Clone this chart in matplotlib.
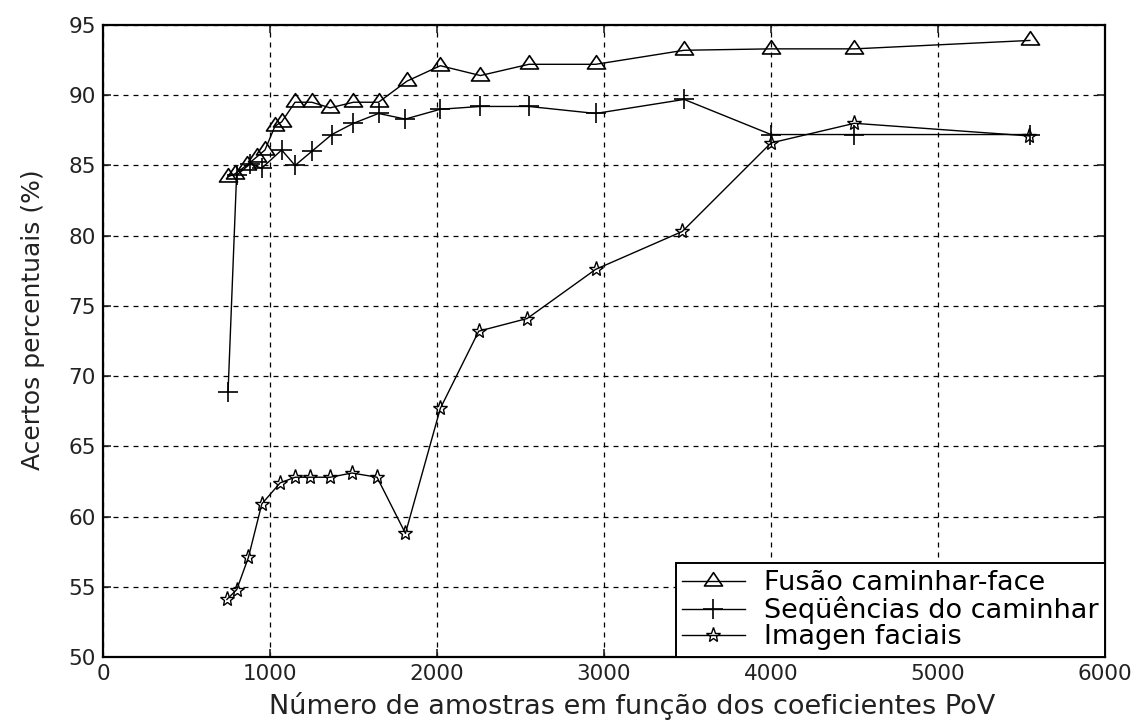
import numpy as np
import matplotlib.pyplot as plt
from matplotlib.path import Path

# amostras (x) e acertos (%) de cada abordagem
x_fusao = [750, 790, 860, 920, 970, 1030, 1070, 1150, 1250, 1360, 1500, 1650,
           1820, 2020, 2260, 2550, 2950, 3480, 4000, 4500, 5550]
y_fusao = [84.2, 84.4, 85.0, 85.6, 86.1, 87.8, 88.1, 89.5, 89.5, 89.1, 89.5, 89.5,
           91.0, 92.1, 91.4, 92.2, 92.2, 93.2, 93.3, 93.3, 93.9]

x_caminhar = [749, 800, 880, 950, 1070, 1150, 1250, 1370, 1500, 1650, 1810,
              2020, 2260, 2550, 2950, 3480, 4000, 4500, 5550]
y_caminhar = [68.9, 84.3, 85.1, 84.8, 86.1, 85.0, 86.0, 87.2, 88.0, 88.7, 88.3,
              89.0, 89.2, 89.2, 88.7, 89.7, 87.2, 87.2, 87.2]

x_facial = [742, 801, 871, 951, 1061, 1151, 1241, 1361, 1491, 1641, 1811,
            2020, 2250, 2540, 2950, 3469, 4000, 4500, 5546]
y_facial = [54.1, 54.8, 57.1, 60.9, 62.4, 62.8, 62.8, 62.8, 63.1, 62.8, 58.8,
            67.7, 73.2, 74.1, 77.6, 80.3, 86.6, 88.0, 87.1]

xticks = [0, 1000, 2000, 3000, 4000, 5000, 6000]
yticks = [50, 55, 60, 65, 70, 75, 80, 85, 90, 95]

# triangulo com o ponto no centroide
tri = Path([(0, 11.3), (-11.5, -5.7), (11.5, -5.7), (0, 11.3)],
           [Path.MOVETO, Path.LINETO, Path.LINETO, Path.CLOSEPOLY])

plt.rcParams['font.family'] = 'DejaVu Sans'
fig = plt.figure(figsize=(11.38, 7.2), dpi=100)
ax = fig.add_axes([0.0905, 0.0875, 0.8805, 0.8778])

ax.plot(x_fusao, y_fusao, color='k', lw=1.0, marker=tri, ms=13,
        mfc='none', mec='k', mew=1.2, label='Fusão caminhar-face')
ax.plot(x_caminhar, y_caminhar, color='k', lw=1.0, marker='+', ms=14,
        mec='k', mew=1.2, label='Seqüências do caminhar')
ax.plot(x_facial, y_facial, color='k', lw=1.0, marker='*', ms=11,
        mfc='none', mec='k', mew=1.0, label='Imagen faciais')

ax.set_xlim(0, 6000)
ax.set_ylim(50, 95)
ax.set_xticks(xticks)
ax.set_yticks(yticks)
ax.grid(True, color='k', linestyle=(0, (4, 4)), linewidth=0.9)
ax.tick_params(direction='in', length=6, width=1.2, top=True, right=True,
               labelsize=15.5, colors='#222222', pad=5)
for s in ax.spines.values():
    s.set_linewidth(1.6)

ax.set_xlabel('Número de amostras em função dos coeficientes PoV', fontsize=19.5,
              color='#222222')
ax.set_ylabel('Acertos percentuais (%)', fontsize=18, color='#222222')
ax.xaxis.set_label_coords(0.528, -0.056)
ax.yaxis.set_label_coords(-0.058, 0.533)

leg = ax.legend(loc='lower right', fontsize=19.5, borderaxespad=0, fancybox=False,
                edgecolor='k', framealpha=1, handlelength=2.3, labelspacing=0.0,
                borderpad=0.25, handletextpad=0.7)
leg.get_frame().set_linewidth(1.4)

plt.savefig('out.png', dpi=100)
